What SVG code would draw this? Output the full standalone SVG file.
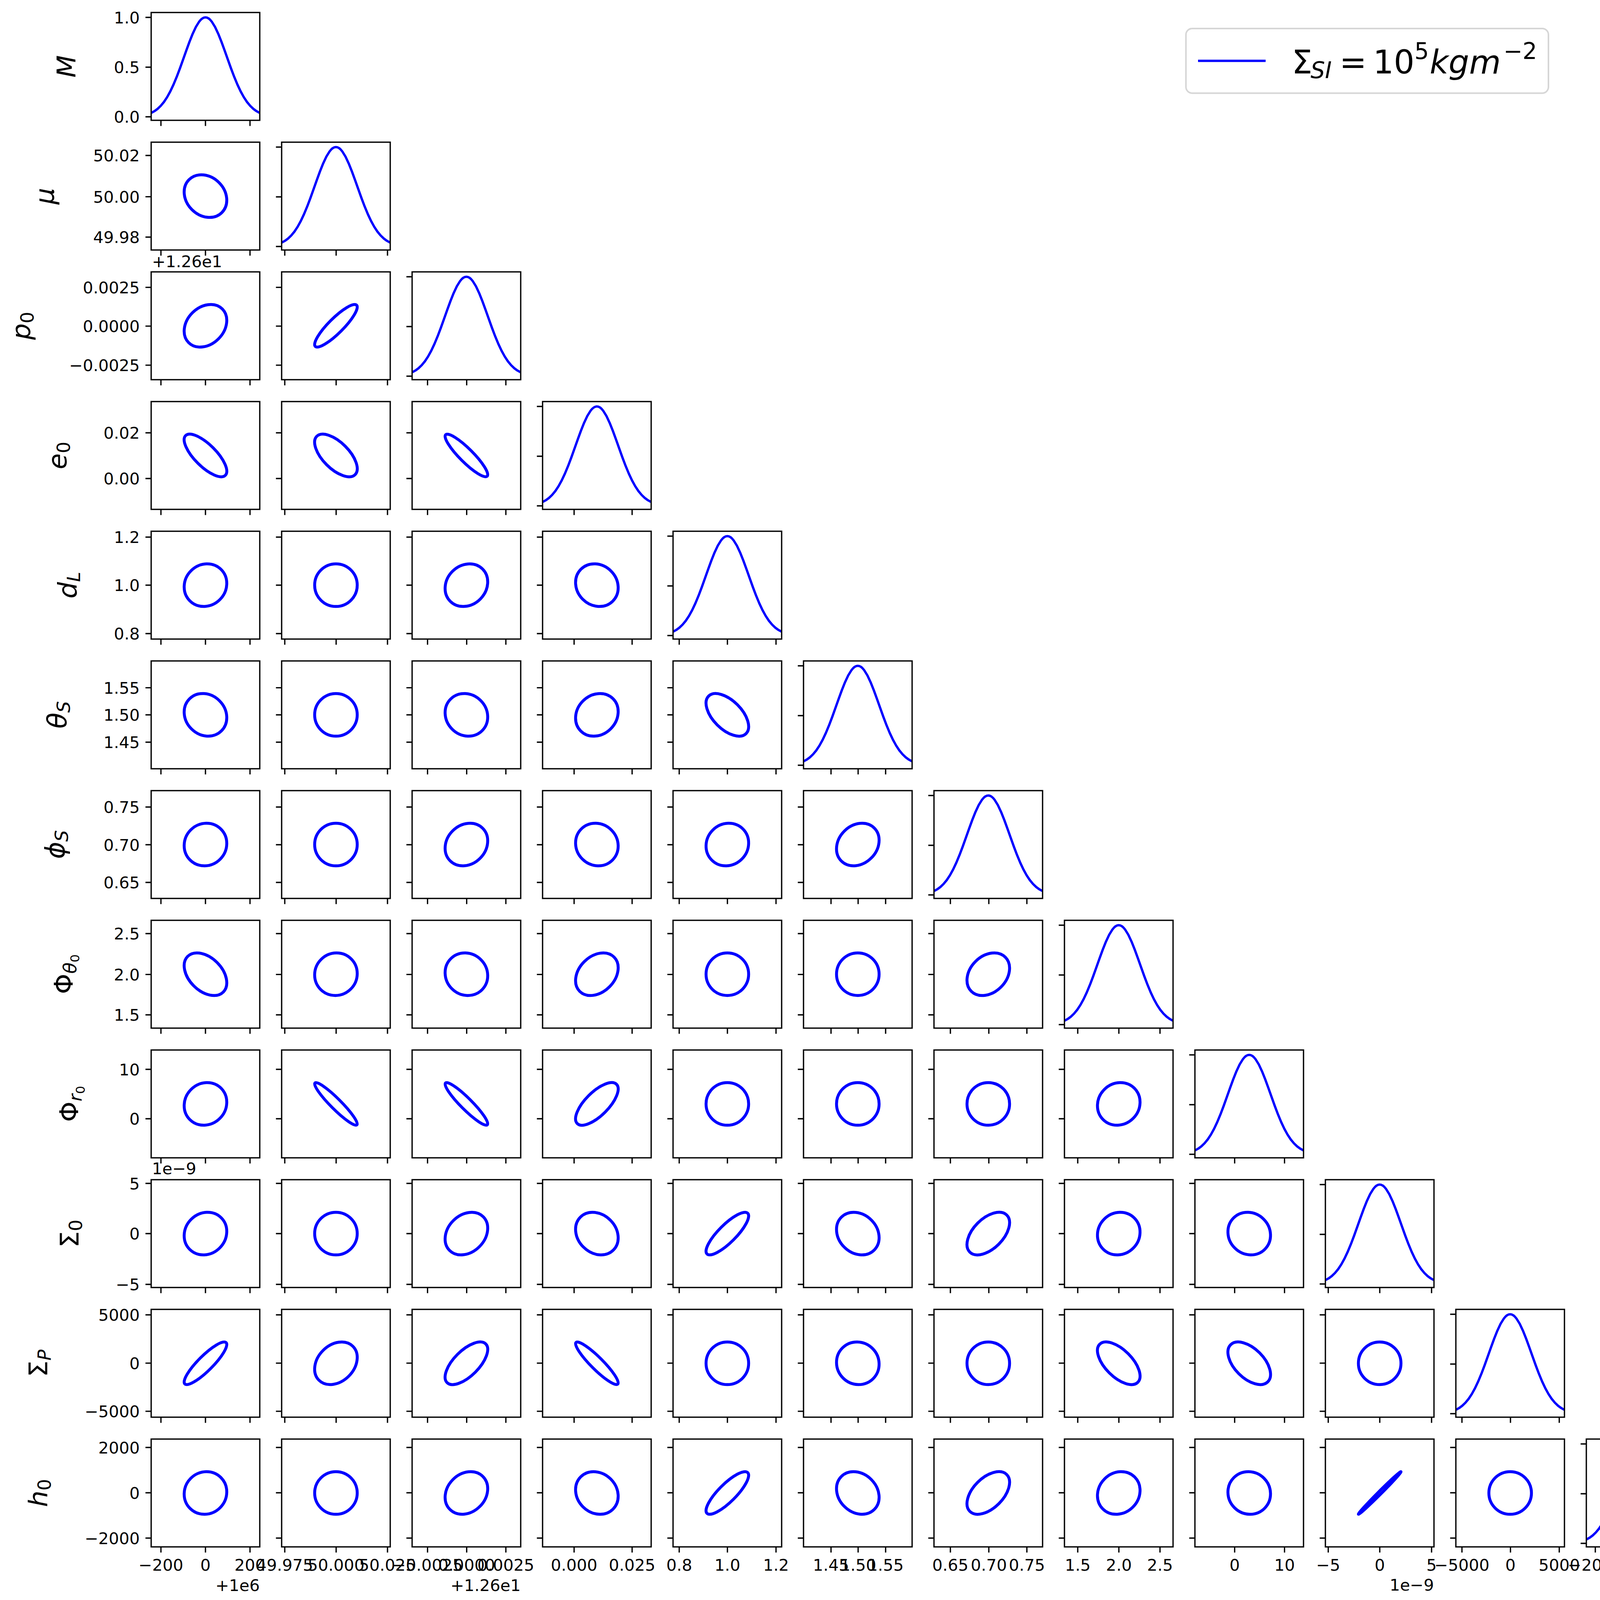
<svg xmlns="http://www.w3.org/2000/svg" width="4400" height="4212" viewBox="0 0 4400 4212">
<style>
.sp{fill:none;stroke:#000;stroke-width:3.33}
.tk{fill:none;stroke:#000;stroke-width:3.33}
.el{fill:none;stroke:#0000ff;stroke-width:7.5}
.cv{fill:none;stroke:#0000ff;stroke-width:6;stroke-linejoin:round}
.tl{font-family:'DejaVu Sans','Liberation Sans',sans-serif;font-size:41.67px;fill:#000}
.tr{text-anchor:end}
.tm{text-anchor:middle}
.lb{font-family:'DejaVu Sans','Liberation Sans',sans-serif;font-size:66.7px;text-anchor:middle;fill:#000}
.lg{font-family:'DejaVu Sans','Liberation Sans',sans-serif;font-size:83.3px;fill:#000}
.it{font-style:italic}
</style>
<defs>
<clipPath id="dc"><rect x="0" y="0" width="278" height="276"/></clipPath>
<path id="gauss" class="cv" clip-path="url(#dc)" d="M0,257.14 L8.18,252.71 L16.35,246.75 L24.53,238.94 L32.71,228.98 L40.88,216.63 L49.06,201.76 L57.23,184.38 L65.41,164.69 L73.59,143.12 L81.76,120.35 L89.94,97.25 L98.12,74.89 L106.29,54.42 L114.47,37 L122.65,23.7 Q139,1.3 155.35,23.7 L163.53,37 L171.71,54.42 L179.88,74.89 L188.06,97.25 L196.24,120.35 L204.41,143.12 L212.59,164.69 L220.76,184.38 L228.94,201.76 L237.12,216.63 L245.29,228.98 L253.47,238.94 L261.65,246.75 L269.82,252.71 L278,257.14"/>
<rect id="sp" class="sp" x="0" y="0" width="278" height="276"/>
<path id="ytd" class="tk" d="M-14.6 12.5H0M-14.6 140H0M-14.6 267H0"/>
<path id="yt1" class="tk" d="M-14.6 398H0M-14.6 503.6H0M-14.6 607H0"/>
<path id="yt2" class="tk" d="M-14.6 735.7H0M-14.6 834.8H0M-14.6 934.8H0"/>
<path id="yt3" class="tk" d="M-14.6 1108H0M-14.6 1225H0"/>
<path id="yt4" class="tk" d="M-14.6 1375H0M-14.6 1498H0M-14.6 1622H0"/>
<path id="yt5" class="tk" d="M-14.6 1760.7H0M-14.6 1830H0M-14.6 1900H0"/>
<path id="yt6" class="tk" d="M-14.6 2066H0M-14.6 2162.5H0M-14.6 2259H0"/>
<path id="yt7" class="tk" d="M-14.6 2390H0M-14.6 2494.6H0M-14.6 2598H0"/>
<path id="yt8" class="tk" d="M-14.6 2737.5H0M-14.6 2864H0"/>
<path id="yt9" class="tk" d="M-14.6 3029.5H0M-14.6 3158H0M-14.6 3288H0"/>
<path id="yt10" class="tk" d="M-14.6 3366H0M-14.6 3489.6H0M-14.6 3612.8H0"/>
<path id="yt11" class="tk" d="M-14.6 3705.5H0M-14.6 3821.5H0M-14.6 3937.5H0"/>
<path id="xt0" class="tk" d="M412 0V14.6M526 0V14.6M640 0V14.6"/>
<path id="xt1" class="tk" d="M729 0V14.6M860.5 0V14.6M992 0V14.6"/>
<path id="xt2" class="tk" d="M1094.5 0V14.6M1194.7 0V14.6M1295 0V14.6"/>
<path id="xt3" class="tk" d="M1469.7 0V14.6M1618.2 0V14.6"/>
<path id="xt4" class="tk" d="M1738.8 0V14.6M1862.2 0V14.6M1986.6 0V14.6"/>
<path id="xt5" class="tk" d="M2127.4 0V14.6M2196.8 0V14.6M2267.2 0V14.6"/>
<path id="xt6" class="tk" d="M2433 0V14.6M2531.4 0V14.6M2628.8 0V14.6"/>
<path id="xt7" class="tk" d="M2759 0V14.6M2864.3 0V14.6M2969.6 0V14.6"/>
<path id="xt8" class="tk" d="M3160.7 0V14.6M3288.4 0V14.6"/>
<path id="xt9" class="tk" d="M3400.3 0V14.6M3532.2 0V14.6M3664.8 0V14.6"/>
<path id="xt10" class="tk" d="M3742.6 0V14.6M3866.8 0V14.6M3991.7 0V14.6"/>
<path id="xt11" class="tk" d="M4084 0V14.6M4200 0V14.6M4317 0V14.6"/>
</defs>
<rect width="4400" height="4212" fill="#fff"/>

<!-- Row 0 -->
<g id="p0_0"><use href="#gauss" x="387" y="32"/><use href="#sp" x="387" y="32"/><use href="#ytd" x="387" y="32"/><use href="#xt0" y="308"/></g>

<!-- Row 1 -->
<g id="p1_0"><ellipse class="el" cx="526" cy="502" rx="49.05" ry="59.45" transform="rotate(-45 526 502)"/><use href="#sp" x="387" y="364"/><use href="#yt1" x="387"/><use href="#xt0" y="640"/></g>
<g id="p1_1"><use href="#gauss" x="721" y="364"/><use href="#sp" x="721" y="364"/><use href="#ytd" x="721" y="364"/><use href="#xt1" y="640"/></g>

<!-- Row 2 -->
<g id="p2_0"><ellipse class="el" cx="526" cy="834" rx="60.93" ry="47.20" transform="rotate(-45 526 834)"/><use href="#sp" x="387" y="696"/><use href="#yt2" x="387"/><use href="#xt0" y="972"/></g>
<g id="p2_1"><ellipse class="el" cx="860" cy="834" rx="74.73" ry="18.88" transform="rotate(-45 860 834)"/><use href="#sp" x="721" y="696"/><use href="#yt2" x="721"/><use href="#xt1" y="972"/></g>
<g id="p2_2"><use href="#gauss" x="1055" y="696"/><use href="#sp" x="1055" y="696"/><use href="#ytd" x="1055" y="696"/><use href="#xt2" y="972"/></g>

<!-- Row 3 -->
<g id="p3_0"><ellipse class="el" cx="526" cy="1166" rx="27.79" ry="71.89" transform="rotate(-45 526 1166)"/><use href="#sp" x="387" y="1028"/><use href="#yt3" x="387"/><use href="#xt0" y="1304"/></g>
<g id="p3_1"><ellipse class="el" cx="860" cy="1166" rx="33.60" ry="69.37" transform="rotate(-45 860 1166)"/><use href="#sp" x="721" y="1028"/><use href="#yt3" x="721"/><use href="#xt1" y="1304"/></g>
<g id="p3_2"><ellipse class="el" cx="1194" cy="1166" rx="17.23" ry="75.12" transform="rotate(-45 1194 1166)"/><use href="#sp" x="1055" y="1028"/><use href="#yt3" x="1055"/><use href="#xt2" y="1304"/></g>
<g id="p3_3"><use href="#gauss" x="1389" y="1028"/><use href="#sp" x="1389" y="1028"/><use href="#ytd" x="1389" y="1028"/><use href="#xt3" y="1304"/></g>

<!-- Row 4 -->
<g id="p4_0"><ellipse class="el" cx="526" cy="1498" rx="56.64" ry="52.27" transform="rotate(-45 526 1498)"/><use href="#sp" x="387" y="1360"/><use href="#yt4" x="387"/><use href="#xt0" y="1636"/></g>
<g id="p4_1"><circle class="el" cx="860" cy="1498" r="54.5"/><use href="#sp" x="721" y="1360"/><use href="#yt4" x="721"/><use href="#xt1" y="1636"/></g>
<g id="p4_2"><ellipse class="el" cx="1194" cy="1498" rx="58.44" ry="50.25" transform="rotate(-45 1194 1498)"/><use href="#sp" x="1055" y="1360"/><use href="#yt4" x="1055"/><use href="#xt2" y="1636"/></g>
<g id="p4_3"><ellipse class="el" cx="1528" cy="1498" rx="51.13" ry="57.68" transform="rotate(-45 1528 1498)"/><use href="#sp" x="1389" y="1360"/><use href="#yt4" x="1389"/><use href="#xt3" y="1636"/></g>
<g id="p4_4"><use href="#gauss" x="1723" y="1360"/><use href="#sp" x="1723" y="1360"/><use href="#ytd" x="1723" y="1360"/><use href="#xt4" y="1636"/></g>

<!-- Row 5 -->
<g id="p5_0"><ellipse class="el" cx="526" cy="1830" rx="50.83" ry="57.94" transform="rotate(-45 526 1830)"/><use href="#sp" x="387" y="1692"/><use href="#yt5" x="387"/><use href="#xt0" y="1968"/></g>
<g id="p5_1"><circle class="el" cx="860" cy="1830" r="54.5"/><use href="#sp" x="721" y="1692"/><use href="#yt5" x="721"/><use href="#xt1" y="1968"/></g>
<g id="p5_2"><ellipse class="el" cx="1194" cy="1830" rx="51.70" ry="57.16" transform="rotate(-45 1194 1830)"/><use href="#sp" x="1055" y="1692"/><use href="#yt5" x="1055"/><use href="#xt2" y="1968"/></g>
<g id="p5_3"><ellipse class="el" cx="1528" cy="1830" rx="58.44" ry="50.25" transform="rotate(-45 1528 1830)"/><use href="#sp" x="1389" y="1692"/><use href="#yt5" x="1389"/><use href="#xt3" y="1968"/></g>
<g id="p5_4"><ellipse class="el" cx="1862" cy="1830" rx="36.56" ry="67.85" transform="rotate(-45 1862 1830)"/><use href="#sp" x="1723" y="1692"/><use href="#yt5" x="1723"/><use href="#xt4" y="1968"/></g>
<g id="p5_5"><use href="#gauss" x="2057" y="1692"/><use href="#sp" x="2057" y="1692"/><use href="#ytd" x="2057" y="1692"/><use href="#xt5" y="1968"/></g>

<!-- Row 6 -->
<g id="p6_0"><ellipse class="el" cx="526" cy="2162" rx="55.85" ry="53.12" transform="rotate(-45 526 2162)"/><use href="#sp" x="387" y="2024"/><use href="#yt6" x="387"/><use href="#xt0" y="2300"/></g>
<g id="p6_1"><circle class="el" cx="860" cy="2162" r="54.5"/><use href="#sp" x="721" y="2024"/><use href="#yt6" x="721"/><use href="#xt1" y="2300"/></g>
<g id="p6_2"><ellipse class="el" cx="1194" cy="2162" rx="58.95" ry="49.65" transform="rotate(-45 1194 2162)"/><use href="#sp" x="1055" y="2024"/><use href="#yt6" x="1055"/><use href="#xt2" y="2300"/></g>
<g id="p6_3"><ellipse class="el" cx="1528" cy="2162" rx="52.56" ry="56.38" transform="rotate(-45 1528 2162)"/><use href="#sp" x="1389" y="2024"/><use href="#yt6" x="1389"/><use href="#xt3" y="2300"/></g>
<g id="p6_4"><ellipse class="el" cx="1862" cy="2162" rx="56.38" ry="52.56" transform="rotate(-45 1862 2162)"/><use href="#sp" x="1723" y="2024"/><use href="#yt6" x="1723"/><use href="#xt4" y="2300"/></g>
<g id="p6_5"><ellipse class="el" cx="2196" cy="2162" rx="59.70" ry="48.75" transform="rotate(-45 2196 2162)"/><use href="#sp" x="2057" y="2024"/><use href="#yt6" x="2057"/><use href="#xt5" y="2300"/></g>
<g id="p6_6"><use href="#gauss" x="2391" y="2024"/><use href="#sp" x="2391" y="2024"/><use href="#ytd" x="2391" y="2024"/><use href="#xt6" y="2300"/></g>

<!-- Row 7 -->
<g id="p7_0"><ellipse class="el" cx="526" cy="2494" rx="42.22" ry="64.48" transform="rotate(-45 526 2494)"/><use href="#sp" x="387" y="2356"/><use href="#yt7" x="387"/><use href="#xt0" y="2632"/></g>
<g id="p7_1"><ellipse class="el" cx="860" cy="2494" rx="55.31" ry="53.68" transform="rotate(-45 860 2494)"/><use href="#sp" x="721" y="2356"/><use href="#yt7" x="721"/><use href="#xt1" y="2632"/></g>
<g id="p7_2"><ellipse class="el" cx="1194" cy="2494" rx="52.56" ry="56.38" transform="rotate(-45 1194 2494)"/><use href="#sp" x="1055" y="2356"/><use href="#yt7" x="1055"/><use href="#xt2" y="2632"/></g>
<g id="p7_3"><ellipse class="el" cx="1528" cy="2494" rx="62.14" ry="45.60" transform="rotate(-45 1528 2494)"/><use href="#sp" x="1389" y="2356"/><use href="#yt7" x="1389"/><use href="#xt3" y="2632"/></g>
<g id="p7_4"><circle class="el" cx="1862" cy="2494" r="54.5"/><use href="#sp" x="1723" y="2356"/><use href="#yt7" x="1723"/><use href="#xt4" y="2632"/></g>
<g id="p7_5"><circle class="el" cx="2196" cy="2494" r="54.5"/><use href="#sp" x="2057" y="2356"/><use href="#yt7" x="2057"/><use href="#xt5" y="2632"/></g>
<g id="p7_6"><ellipse class="el" cx="2530" cy="2494" rx="61.66" ry="46.24" transform="rotate(-45 2530 2494)"/><use href="#sp" x="2391" y="2356"/><use href="#yt7" x="2391"/><use href="#xt6" y="2632"/></g>
<g id="p7_7"><use href="#gauss" x="2725" y="2356"/><use href="#sp" x="2725" y="2356"/><use href="#ytd" x="2725" y="2356"/><use href="#xt7" y="2632"/></g>

<!-- Row 8 -->
<g id="p8_0"><ellipse class="el" cx="526" cy="2826" rx="56.64" ry="52.27" transform="rotate(-45 526 2826)"/><use href="#sp" x="387" y="2688"/><use href="#yt8" x="387"/><use href="#xt0" y="2964"/></g>
<g id="p8_1"><ellipse class="el" cx="860" cy="2826" rx="13.35" ry="75.91" transform="rotate(-45 860 2826)"/><use href="#sp" x="721" y="2688"/><use href="#yt8" x="721"/><use href="#xt1" y="2964"/></g>
<g id="p8_2"><ellipse class="el" cx="1194" cy="2826" rx="14.42" ry="75.71" transform="rotate(-45 1194 2826)"/><use href="#sp" x="1055" y="2688"/><use href="#yt8" x="1055"/><use href="#xt2" y="2964"/></g>
<g id="p8_3"><ellipse class="el" cx="1528" cy="2826" rx="71.06" ry="29.85" transform="rotate(-45 1528 2826)"/><use href="#sp" x="1389" y="2688"/><use href="#yt8" x="1389"/><use href="#xt3" y="2964"/></g>
<g id="p8_4"><circle class="el" cx="1862" cy="2826" r="54.5"/><use href="#sp" x="1723" y="2688"/><use href="#yt8" x="1723"/><use href="#xt4" y="2964"/></g>
<g id="p8_5"><circle class="el" cx="2196" cy="2826" r="54.5"/><use href="#sp" x="2057" y="2688"/><use href="#yt8" x="2057"/><use href="#xt5" y="2964"/></g>
<g id="p8_6"><circle class="el" cx="2530" cy="2826" r="54.5"/><use href="#sp" x="2391" y="2688"/><use href="#yt8" x="2391"/><use href="#xt6" y="2964"/></g>
<g id="p8_7"><ellipse class="el" cx="2864" cy="2826" rx="56.64" ry="52.27" transform="rotate(-45 2864 2826)"/><use href="#sp" x="2725" y="2688"/><use href="#yt8" x="2725"/><use href="#xt7" y="2964"/></g>
<g id="p8_8"><use href="#gauss" x="3059" y="2688"/><use href="#sp" x="3059" y="2688"/><use href="#ytd" x="3059" y="2688"/><use href="#xt8" y="2964"/></g>

<!-- Row 9 -->
<g id="p9_0"><ellipse class="el" cx="526" cy="3158" rx="57.16" ry="51.70" transform="rotate(-45 526 3158)"/><use href="#sp" x="387" y="3020"/><use href="#yt9" x="387"/><use href="#xt0" y="3296"/></g>
<g id="p9_1"><circle class="el" cx="860" cy="3158" r="54.5"/><use href="#sp" x="721" y="3020"/><use href="#yt9" x="721"/><use href="#xt1" y="3296"/></g>
<g id="p9_2"><ellipse class="el" cx="1194" cy="3158" rx="60.93" ry="47.20" transform="rotate(-45 1194 3158)"/><use href="#sp" x="1055" y="3020"/><use href="#yt9" x="1055"/><use href="#xt2" y="3296"/></g>
<g id="p9_3"><ellipse class="el" cx="1528" cy="3158" rx="48.75" ry="59.70" transform="rotate(-45 1528 3158)"/><use href="#sp" x="1389" y="3020"/><use href="#yt9" x="1389"/><use href="#xt3" y="3296"/></g>
<g id="p9_4"><ellipse class="el" cx="1862" cy="3158" rx="73.73" ry="22.47" transform="rotate(-45 1862 3158)"/><use href="#sp" x="1723" y="3020"/><use href="#yt9" x="1723"/><use href="#xt4" y="3296"/></g>
<g id="p9_5"><ellipse class="el" cx="2196" cy="3158" rx="49.05" ry="59.45" transform="rotate(-45 2196 3158)"/><use href="#sp" x="2057" y="3020"/><use href="#yt9" x="2057"/><use href="#xt5" y="3296"/></g>
<g id="p9_6"><ellipse class="el" cx="2530" cy="3158" rx="66.97" ry="38.15" transform="rotate(-45 2530 3158)"/><use href="#sp" x="2391" y="3020"/><use href="#yt9" x="2391"/><use href="#xt6" y="3296"/></g>
<g id="p9_7"><ellipse class="el" cx="2864" cy="3158" rx="56.38" ry="52.56" transform="rotate(-45 2864 3158)"/><use href="#sp" x="2725" y="3020"/><use href="#yt9" x="2725"/><use href="#xt7" y="3296"/></g>
<g id="p9_8"><ellipse class="el" cx="3198" cy="3158" rx="52.27" ry="56.64" transform="rotate(-45 3198 3158)"/><use href="#sp" x="3059" y="3020"/><use href="#yt9" x="3059"/><use href="#xt8" y="3296"/></g>
<g id="p9_9"><use href="#gauss" x="3393" y="3020"/><use href="#sp" x="3393" y="3020"/><use href="#ytd" x="3393" y="3020"/><use href="#xt9" y="3296"/></g>

<!-- Row 10 -->
<g id="p10_0"><ellipse class="el" cx="526" cy="3490" rx="74.73" ry="18.88" transform="rotate(-45 526 3490)"/><use href="#sp" x="387" y="3352"/><use href="#yt10" x="387"/><use href="#xt0" y="3628"/></g>
<g id="p10_1"><ellipse class="el" cx="860" cy="3490" rx="61.42" ry="46.56" transform="rotate(-45 860 3490)"/><use href="#sp" x="721" y="3352"/><use href="#yt10" x="721"/><use href="#xt1" y="3628"/></g>
<g id="p10_2"><ellipse class="el" cx="1194" cy="3490" rx="70.01" ry="32.24" transform="rotate(-45 1194 3490)"/><use href="#sp" x="1055" y="3352"/><use href="#yt10" x="1055"/><use href="#xt2" y="3628"/></g>
<g id="p10_3"><ellipse class="el" cx="1528" cy="3490" rx="15.41" ry="75.52" transform="rotate(-45 1528 3490)"/><use href="#sp" x="1389" y="3352"/><use href="#yt10" x="1389"/><use href="#xt3" y="3628"/></g>
<g id="p10_4"><circle class="el" cx="1862" cy="3490" r="54.5"/><use href="#sp" x="1723" y="3352"/><use href="#yt10" x="1723"/><use href="#xt4" y="3628"/></g>
<g id="p10_5"><ellipse class="el" cx="2196" cy="3490" rx="53.40" ry="55.58" transform="rotate(-45 2196 3490)"/><use href="#sp" x="2057" y="3352"/><use href="#yt10" x="2057"/><use href="#xt5" y="3628"/></g>
<g id="p10_6"><circle class="el" cx="2530" cy="3490" r="54.5"/><use href="#sp" x="2391" y="3352"/><use href="#yt10" x="2391"/><use href="#xt6" y="3628"/></g>
<g id="p10_7"><ellipse class="el" cx="2864" cy="3490" rx="34.47" ry="68.94" transform="rotate(-45 2864 3490)"/><use href="#sp" x="2725" y="3352"/><use href="#yt10" x="2725"/><use href="#xt7" y="3628"/></g>
<g id="p10_8"><ellipse class="el" cx="3198" cy="3490" rx="37.76" ry="67.19" transform="rotate(-45 3198 3490)"/><use href="#sp" x="3059" y="3352"/><use href="#yt10" x="3059"/><use href="#xt8" y="3628"/></g>
<g id="p10_9"><circle class="el" cx="3532" cy="3490" r="54.5"/><use href="#sp" x="3393" y="3352"/><use href="#yt10" x="3393"/><use href="#xt9" y="3628"/></g>
<g id="p10_10"><use href="#gauss" x="3727" y="3352"/><use href="#sp" x="3727" y="3352"/><use href="#ytd" x="3727" y="3352"/><use href="#xt10" y="3628"/></g>

<!-- Row 11 -->
<g id="p11_0"><ellipse class="el" cx="526" cy="3822" rx="55.85" ry="53.12" transform="rotate(-45 526 3822)"/><use href="#sp" x="387" y="3684"/><use href="#yt11" x="387"/><use href="#xt0" y="3960"/></g>
<g id="p11_1"><circle class="el" cx="860" cy="3822" r="54.5"/><use href="#sp" x="721" y="3684"/><use href="#yt11" x="721"/><use href="#xt1" y="3960"/></g>
<g id="p11_2"><ellipse class="el" cx="1194" cy="3822" rx="59.70" ry="48.75" transform="rotate(-45 1194 3822)"/><use href="#sp" x="1055" y="3684"/><use href="#yt11" x="1055"/><use href="#xt2" y="3960"/></g>
<g id="p11_3"><ellipse class="el" cx="1528" cy="3822" rx="50.25" ry="58.44" transform="rotate(-45 1528 3822)"/><use href="#sp" x="1389" y="3684"/><use href="#yt11" x="1389"/><use href="#xt3" y="3960"/></g>
<g id="p11_4"><ellipse class="el" cx="1862" cy="3822" rx="73.73" ry="22.47" transform="rotate(-45 1862 3822)"/><use href="#sp" x="1723" y="3684"/><use href="#yt11" x="1723"/><use href="#xt4" y="3960"/></g>
<g id="p11_5"><ellipse class="el" cx="2196" cy="3822" rx="48.75" ry="59.70" transform="rotate(-45 2196 3822)"/><use href="#sp" x="2057" y="3684"/><use href="#yt11" x="2057"/><use href="#xt5" y="3960"/></g>
<g id="p11_6"><ellipse class="el" cx="2530" cy="3822" rx="66.75" ry="38.54" transform="rotate(-45 2530 3822)"/><use href="#sp" x="2391" y="3684"/><use href="#yt11" x="2391"/><use href="#xt6" y="3960"/></g>
<g id="p11_7"><ellipse class="el" cx="2864" cy="3822" rx="57.68" ry="51.13" transform="rotate(-45 2864 3822)"/><use href="#sp" x="2725" y="3684"/><use href="#yt11" x="2725"/><use href="#xt7" y="3960"/></g>
<g id="p11_8"><ellipse class="el" cx="3198" cy="3822" rx="53.40" ry="55.58" transform="rotate(-45 3198 3822)"/><use href="#sp" x="3059" y="3684"/><use href="#yt11" x="3059"/><use href="#xt8" y="3960"/></g>
<g id="p11_9"><ellipse class="el" cx="3532" cy="3822" rx="76.98" ry="3.85" transform="rotate(-45 3532 3822)"/><use href="#sp" x="3393" y="3684"/><use href="#yt11" x="3393"/><use href="#xt9" y="3960"/></g>
<g id="p11_10"><circle class="el" cx="3866" cy="3822" r="54.5"/><use href="#sp" x="3727" y="3684"/><use href="#yt11" x="3727"/><use href="#xt10" y="3960"/></g>
<g id="p11_11"><use href="#gauss" x="4061" y="3684"/><use href="#sp" x="4061" y="3684"/><use href="#ytd" x="4061" y="3684"/><use href="#xt11" y="3960"/></g>

<!-- Y tick labels -->
<g id="ytick-labels" class="tl tr">
<text x="357.8" y="59.5">1.0</text><text x="357.8" y="187">0.5</text><text x="357.8" y="314">0.0</text>
<text x="357.8" y="413">50.02</text><text x="357.8" y="518.6">50.00</text><text x="357.8" y="622">49.98</text>
<text x="357.8" y="750.7">0.0025</text><text x="357.8" y="849.8">0.0000</text><text x="357.8" y="949.8">−0.0025</text>
<text x="357.8" y="1123">0.02</text><text x="357.8" y="1240">0.00</text>
<text x="357.8" y="1390">1.2</text><text x="357.8" y="1513">1.0</text><text x="357.8" y="1637">0.8</text>
<text x="357.8" y="1775.7">1.55</text><text x="357.8" y="1845">1.50</text><text x="357.8" y="1915">1.45</text>
<text x="357.8" y="2081">0.75</text><text x="357.8" y="2177.5">0.70</text><text x="357.8" y="2274">0.65</text>
<text x="357.8" y="2405">2.5</text><text x="357.8" y="2509.6">2.0</text><text x="357.8" y="2613">1.5</text>
<text x="357.8" y="2752.5">10</text><text x="357.8" y="2879">0</text>
<text x="357.8" y="3044.5">5</text><text x="357.8" y="3173">0</text><text x="357.8" y="3303">−5</text>
<text x="357.8" y="3381">5000</text><text x="357.8" y="3504.6">0</text><text x="357.8" y="3627.8">−5000</text>
<text x="357.8" y="3720.5">2000</text><text x="357.8" y="3836.5">0</text><text x="357.8" y="3952.5">−2000</text>
</g>

<!-- X tick labels -->
<g id="xtick-labels" class="tl tm">
<text x="412" y="4021">−200</text><text x="526" y="4021">0</text><text x="640" y="4021">200</text>
<text x="729" y="4021">49.975</text><text x="860.5" y="4021">50.000</text><text x="992" y="4021">50.025</text>
<text x="1094.5" y="4021">−0.0025</text><text x="1194.7" y="4021">0.0000</text><text x="1295" y="4021">0.0025</text>
<text x="1469.7" y="4021">0.000</text><text x="1618.2" y="4021">0.025</text>
<text x="1738.8" y="4021">0.8</text><text x="1862.2" y="4021">1.0</text><text x="1986.6" y="4021">1.2</text>
<text x="2127.4" y="4021">1.45</text><text x="2196.8" y="4021">1.50</text><text x="2267.2" y="4021">1.55</text>
<text x="2433" y="4021">0.65</text><text x="2531.4" y="4021">0.70</text><text x="2628.8" y="4021">0.75</text>
<text x="2759" y="4021">1.5</text><text x="2864.3" y="4021">2.0</text><text x="2969.6" y="4021">2.5</text>
<text x="3160.7" y="4021">0</text><text x="3288.4" y="4021">10</text>
<text x="3400.3" y="4021">−5</text><text x="3532.2" y="4021">0</text><text x="3664.8" y="4021">5</text>
<text x="3742.6" y="4021">−5000</text><text x="3866.8" y="4021">0</text><text x="3991.7" y="4021">5000</text>
<text x="4084" y="4021">−2000</text><text x="4200" y="4021">0</text><text x="4317" y="4021">2000</text>
</g>

<!-- Offset texts -->
<g id="offsets" class="tl">
<text x="389" y="684">+1.26e1</text>
<text x="389" y="3006">1e−9</text>
<text class="tr" x="665" y="4073">+1e6</text>
<text class="tr" x="1333" y="4073">+1.26e1</text>
<text class="tr" x="3671" y="4072">1e−9</text>
</g>

<!-- Y axis labels -->
<g id="ylabels" class="lb">
<text transform="translate(193 170) rotate(-90)"><tspan class="it">M</tspan></text>
<text transform="translate(138 502) rotate(-90)"><tspan class="it">μ</tspan></text>
<text transform="translate(76.7 834) rotate(-90)"><tspan class="it">p</tspan><tspan font-size="46.7" dy="9">0</tspan></text>
<text transform="translate(169.5 1166) rotate(-90)"><tspan class="it">e</tspan><tspan font-size="46.7" dy="9">0</tspan></text>
<text transform="translate(196 1498) rotate(-90)"><tspan class="it">d</tspan><tspan class="it" font-size="46.7" dy="9">L</tspan></text>
<text transform="translate(169.5 1830) rotate(-90)"><tspan class="it">θ</tspan><tspan class="it" font-size="46.7" dy="9">S</tspan></text>
<text transform="translate(164.5 2162) rotate(-90)"><tspan class="it">ϕ</tspan><tspan class="it" font-size="46.7" dy="9">S</tspan></text>
<text transform="translate(186 2494) rotate(-90)"><tspan>Φ</tspan><tspan class="it" font-size="46.7" dy="9">θ</tspan><tspan font-size="32.7" dy="8">0</tspan></text>
<text transform="translate(200 2826) rotate(-90)"><tspan>Φ</tspan><tspan class="it" font-size="46.7" dy="9">r</tspan><tspan font-size="32.7" dy="8">0</tspan></text>
<text transform="translate(201 3158) rotate(-90)"><tspan>Σ</tspan><tspan font-size="46.7" dy="9">0</tspan></text>
<text transform="translate(121.4 3490) rotate(-90)"><tspan>Σ</tspan><tspan class="it" font-size="46.7" dy="9">P</tspan></text>
<text transform="translate(121.4 3822) rotate(-90)"><tspan class="it">h</tspan><tspan font-size="46.7" dy="9">0</tspan></text>
</g>

<!-- X axis labels -->
<g id="xlabels" class="lb">
<text x="526" y="4162"><tspan class="it">M</tspan></text>
<text x="860" y="4162"><tspan class="it">μ</tspan></text>
<text x="1194" y="4162"><tspan class="it">p</tspan><tspan font-size="46.7" dy="9">0</tspan></text>
<text x="1528" y="4162"><tspan class="it">e</tspan><tspan font-size="46.7" dy="9">0</tspan></text>
<text x="1862" y="4162"><tspan class="it">d</tspan><tspan class="it" font-size="46.7" dy="9">L</tspan></text>
<text x="2196" y="4162"><tspan class="it">θ</tspan><tspan class="it" font-size="46.7" dy="9">S</tspan></text>
<text x="2530" y="4162"><tspan class="it">ϕ</tspan><tspan class="it" font-size="46.7" dy="9">S</tspan></text>
<text x="2864" y="4162"><tspan>Φ</tspan><tspan class="it" font-size="46.7" dy="9">θ</tspan><tspan font-size="32.7" dy="8">0</tspan></text>
<text x="3198" y="4162"><tspan>Φ</tspan><tspan class="it" font-size="46.7" dy="9">r</tspan><tspan font-size="32.7" dy="8">0</tspan></text>
<text x="3532" y="4162"><tspan>Σ</tspan><tspan font-size="46.7" dy="9">0</tspan></text>
<text x="3866" y="4162"><tspan>Σ</tspan><tspan class="it" font-size="46.7" dy="9">P</tspan></text>
<text x="4200" y="4162"><tspan class="it">h</tspan><tspan font-size="46.7" dy="9">0</tspan></text>
</g>

<!-- Legend -->
<g id="legend">
<rect x="3036" y="73" width="928" height="165.5" rx="16" ry="16" fill="#fff" stroke="#d6d6d6" stroke-width="4"/>
<line x1="3067" y1="155.7" x2="3240" y2="155.7" stroke="#0000ff" stroke-width="6"/>
<text class="lg" y="188"><tspan x="3307">Σ</tspan><tspan class="it" x="3355" y="200" font-size="58.3px">SI</tspan><tspan x="3429" y="188">=</tspan><tspan x="3515" y="188">10</tspan><tspan x="3621" y="151" font-size="58.3px">5</tspan><tspan class="it" x="3660" y="188">kgm</tspan><tspan x="3849" y="151" font-size="58.3px">−2</tspan></text>
</g>
</svg>
